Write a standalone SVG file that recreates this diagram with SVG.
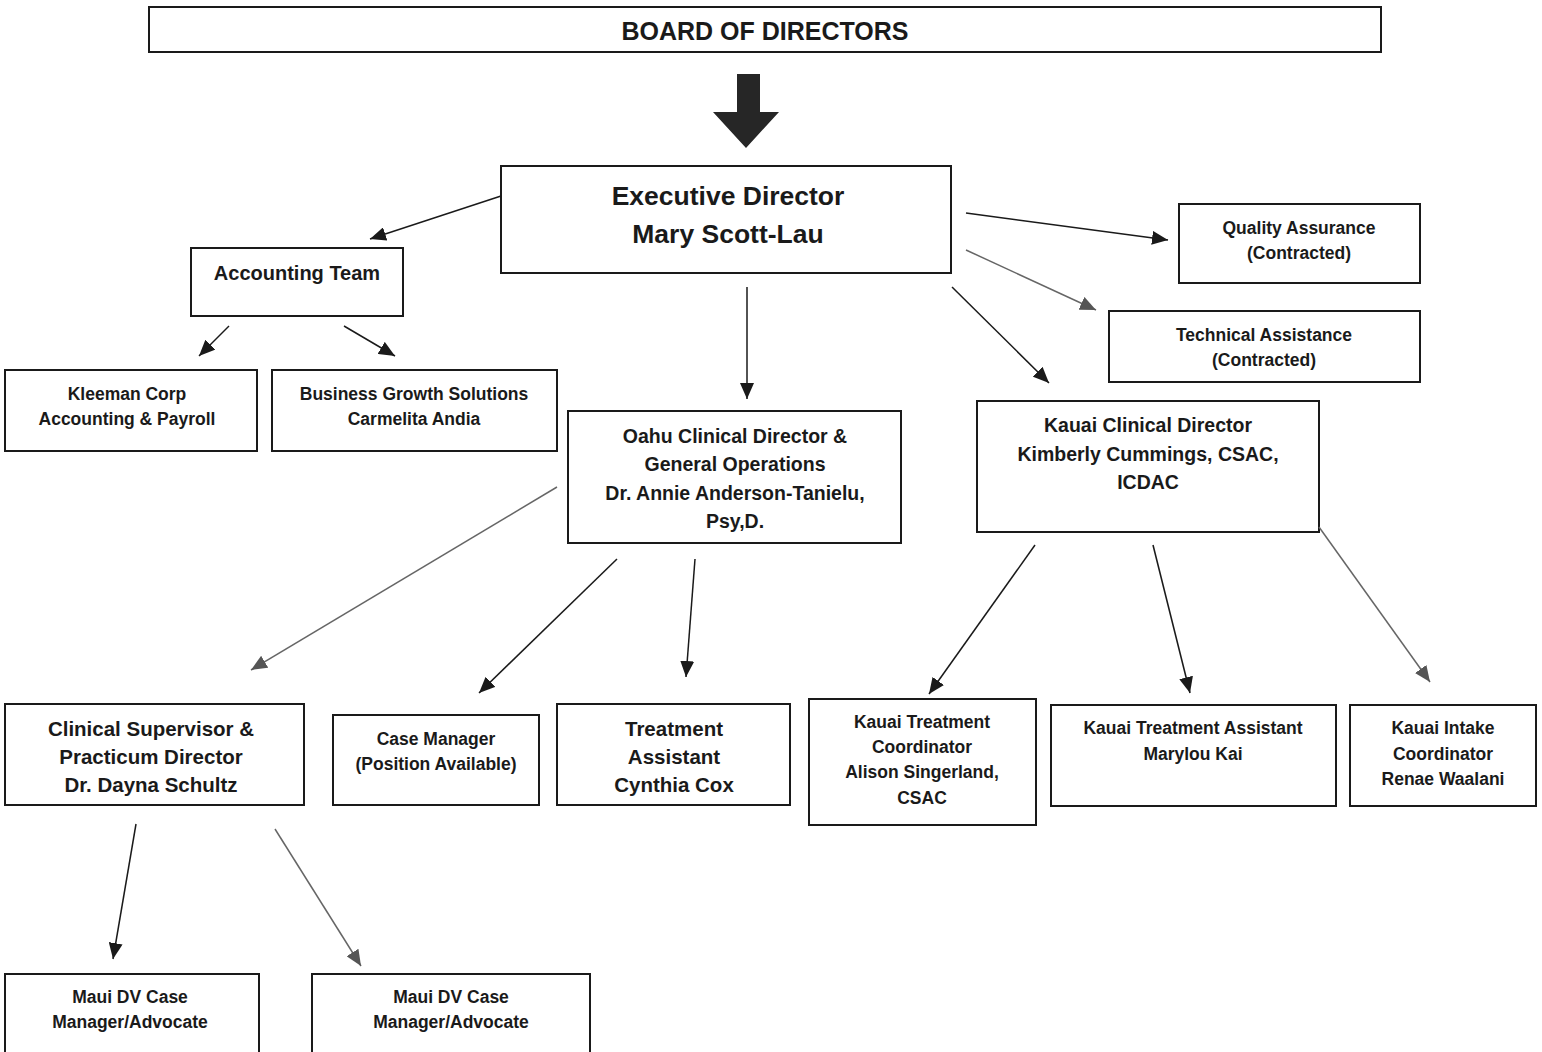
<svg xmlns="http://www.w3.org/2000/svg" width="1542" height="1052" viewBox="0 0 1542 1052">
<defs>
<marker id="ah" markerUnits="userSpaceOnUse" markerWidth="18" markerHeight="14" refX="16" refY="7" orient="auto">
<path d="M0,0 L16,7 L0,14 Z" fill="#1a1a1a"/>
</marker>
<marker id="ahg" markerUnits="userSpaceOnUse" markerWidth="18" markerHeight="14" refX="16" refY="7" orient="auto">
<path d="M0,0 L16,7 L0,14 Z" fill="#555"/>
</marker>
</defs>
<style>
.box{fill:#fff;stroke:#1a1a1a;stroke-width:2}
text{font-family:"Liberation Sans",Arial,sans-serif;font-weight:bold;fill:#1a1a1a;text-anchor:middle}
.s15{font-size:17.5px}
.s17{font-size:19.5px}
.s18{font-size:20.5px}
.s20{font-size:20px}
.s22{font-size:25px}
.s24{font-size:26.5px}
.c{stroke:#1a1a1a;stroke-width:1.5;fill:none;marker-end:url(#ah)}
.g{stroke:#666;stroke-width:1.5;fill:none;marker-end:url(#ahg)}
</style>
<rect width="1542" height="1052" fill="#fff"/>
<g id="board">
<rect class="box" x="149" y="7" width="1232" height="45"/>
<text class="s22" x="765" y="40">BOARD OF DIRECTORS</text>
</g>
<g id="exec">
<rect class="box" x="501" y="166" width="450" height="107"/>
<text class="s24" x="728" y="205">Executive Director</text>
<text class="s24" x="728" y="243">Mary Scott-Lau</text>
</g>
<g id="accounting">
<rect class="box" x="191" y="248" width="212" height="68"/>
<text class="s20" x="297" y="280">Accounting Team</text>
</g>
<g id="kleeman">
<rect class="box" x="5" y="370" width="252" height="81"/>
<text class="s15" x="127" y="400">Kleeman Corp</text>
<text class="s15" x="127" y="425">Accounting &amp; Payroll</text>
</g>
<g id="bgs">
<rect class="box" x="272" y="370" width="285" height="81"/>
<text class="s15" x="414" y="400">Business Growth Solutions</text>
<text class="s15" x="414" y="425">Carmelita Andia</text>
</g>
<g id="qa">
<rect class="box" x="1179" y="204" width="241" height="79"/>
<text class="s15" x="1299" y="234">Quality Assurance</text>
<text class="s15" x="1299" y="259">(Contracted)</text>
</g>
<g id="ta">
<rect class="box" x="1109" y="311" width="311" height="71"/>
<text class="s15" x="1264" y="341">Technical Assistance</text>
<text class="s15" x="1264" y="366">(Contracted)</text>
</g>
<g id="oahu">
<rect class="box" x="568" y="411" width="333" height="132"/>
<text class="s17" x="735" y="443">Oahu Clinical Director &amp;</text>
<text class="s17" x="735" y="471">General Operations</text>
<text class="s17" x="735" y="500">Dr. Annie Anderson-Tanielu,</text>
<text class="s17" x="735" y="528">Psy,D.</text>
</g>
<g id="kauai">
<rect class="box" x="977" y="401" width="342" height="131"/>
<text class="s17" x="1148" y="432">Kauai Clinical Director</text>
<text class="s17" x="1148" y="461">Kimberly Cummings, CSAC,</text>
<text class="s17" x="1148" y="489">ICDAC</text>
</g>
<g id="clinsup">
<rect class="box" x="5" y="704" width="299" height="101"/>
<text class="s18" x="151" y="736">Clinical Supervisor &amp;</text>
<text class="s18" x="151" y="764">Practicum Director</text>
<text class="s18" x="151" y="792">Dr. Dayna Schultz</text>
</g>
<g id="casemgr">
<rect class="box" x="333" y="715" width="206" height="90"/>
<text class="s15" x="436" y="745">Case Manager</text>
<text class="s15" x="436" y="770">(Position Available)</text>
</g>
<g id="treatasst">
<rect class="box" x="557" y="704" width="233" height="101"/>
<text class="s18" x="674" y="736">Treatment</text>
<text class="s18" x="674" y="764">Assistant</text>
<text class="s18" x="674" y="792">Cynthia Cox</text>
</g>
<g id="ktc">
<rect class="box" x="809" y="699" width="227" height="126"/>
<text class="s15" x="922" y="728">Kauai Treatment</text>
<text class="s15" x="922" y="753">Coordinator</text>
<text class="s15" x="922" y="778">Alison Singerland,</text>
<text class="s15" x="922" y="804">CSAC</text>
</g>
<g id="kta">
<rect class="box" x="1051" y="705" width="285" height="101"/>
<text class="s15" x="1193" y="734">Kauai Treatment Assistant</text>
<text class="s15" x="1193" y="760">Marylou Kai</text>
</g>
<g id="intake">
<rect class="box" x="1350" y="705" width="186" height="101"/>
<text class="s15" x="1443" y="734">Kauai Intake</text>
<text class="s15" x="1443" y="760">Coordinator</text>
<text class="s15" x="1443" y="785">Renae Waalani</text>
</g>
<g id="maui1">
<rect class="box" x="5" y="974" width="254" height="80"/>
<text class="s15" x="130" y="1003">Maui DV Case</text>
<text class="s15" x="130" y="1028">Manager/Advocate</text>
</g>
<g id="maui2">
<rect class="box" x="312" y="974" width="278" height="80"/>
<text class="s15" x="451" y="1003">Maui DV Case</text>
<text class="s15" x="451" y="1028">Manager/Advocate</text>
</g>
<g id="connectors">
<path d="M737,74 H760 V112 H779 L746,148 L713,112 H737 Z" fill="#262626"/>
<line class="c" x1="501" y1="196" x2="370" y2="239"/>
<line class="c" x1="229" y1="326" x2="199" y2="356"/>
<line class="c" x1="344" y1="326" x2="395" y2="356"/>
<line class="c" x1="966" y1="213" x2="1168" y2="240"/>
<line class="g" x1="966" y1="250" x2="1096" y2="310"/>
<line class="c" x1="952" y1="287" x2="1049" y2="383"/>
<line class="c" x1="747" y1="287" x2="747" y2="399"/>
<line class="g" x1="557" y1="487" x2="251" y2="670"/>
<line class="c" x1="617" y1="559" x2="479" y2="693"/>
<line class="c" x1="695" y1="559" x2="686" y2="677"/>
<line class="c" x1="1035" y1="545" x2="929" y2="694"/>
<line class="c" x1="1153" y1="545" x2="1190" y2="693"/>
<line class="g" x1="1319" y1="527" x2="1430" y2="682"/>
<line class="c" x1="136" y1="824" x2="113" y2="959"/>
<line class="g" x1="275" y1="829" x2="361" y2="966"/>
</g>
</svg>
